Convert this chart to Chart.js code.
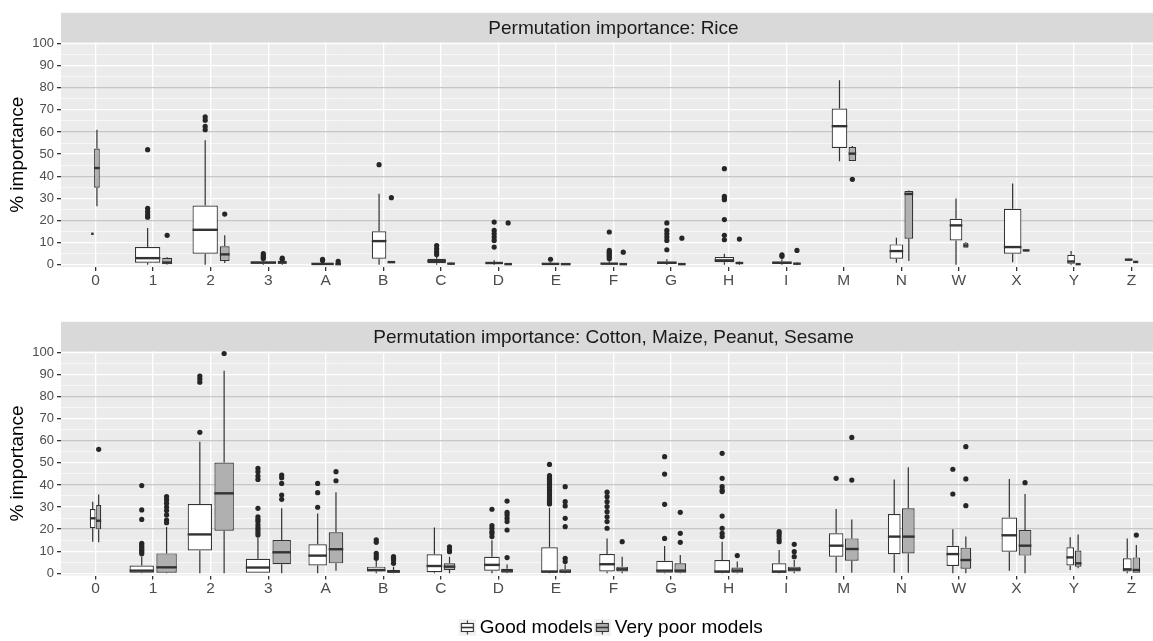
<!DOCTYPE html>
<html>
<head>
<meta charset="utf-8">
<script src="https://cdn.jsdelivr.net/npm/chart.js@4.4.1/dist/chart.umd.min.js"></script>
<style>
  html, body { margin:0; padding:0; background:#fff; width:1153px; height:641px; overflow:hidden; }
  #topChart { position:absolute; left:0; top:0; }
  #botChart { position:absolute; left:0; top:300px; }
</style>
</head>
<body>
<canvas id="topChart" width="1166" height="292"></canvas>
<canvas id="botChart" width="1166" height="347"></canvas>
<script>
// ---------------- DATA ----------------
const categories = ['0','1','2','3','A','B','C','D','E','F','G','H','I','M','N','W','X','Y','Z'];
const yTickValues = [0,10,20,30,40,50,60,70,80,90,100];
const seriesNames = ['Good models', 'Very poor models'];
const panelTitles = ['Permutation importance: Rice', 'Permutation importance: Cotton, Maize, Peanut, Sesame'];

// box statistics per category: [lower whisker, Q1, median, Q3, upper whisker]
const riceGoodStats = [
  [14,14,14,14,14],[0,0.9,3.0,8.0,16.6],[0,5.0,15.8,26.8,56.3],[0,0.5,1.0,1.5,2.2],[0,0.2,0.4,0.6,1.0],
  [0,2.7,10.7,15.1,32.1],[0,0.75,1.7,2.7,4.0],[0,0.4,0.8,1.2,2.0],[0,0.2,0.4,0.8,1.2],[0,0.2,0.5,0.8,1.5],
  [0,0.5,0.9,1.5,2.5],[0,1.2,2.0,3.5,5.0],[0,0.5,0.9,1.5,2.5],[46.8,52.8,62.6,70.6,83.4],[0.9,2.7,6.2,9.2,12.2],
  [0,11.0,17.8,20.8,29.9],[1.2,5.0,8.0,25.3,36.7],[0,0.5,1.5,4.5,6.2],[1.8,2.0,2.3,2.7,2.8]
];
const riceGoodN = [1,100,100,100,78,33,53,48,48,48,59,59,59,38,29,25,48,9,9];
const riceGoodOutliers = [
  [],[52,25.5,24,22.5,21.5],[66.8,65.3,62.5,61],[5,4.2,3.4,2.8],[2.5,1.9],
  [45.2],[8.7,7.2,5.8,4.6],[19.3,15.5,14,12.5,11,8],[2.5],[14.8,6.5,5.7,5,4.2,3.5,2.7],
  [18.9,15.5,14,12.5,11,6.8],[43.4,30.9,29.9,29.4,20.4,13.3,11.3],[4.5,3.8],[],[],
  [],[],[],[]
];

const ricePoorStats = [
  [26.4,34.8,43.7,52.5,61],[0,0.2,1.0,3.2,3.5],[0.8,1.7,4.7,8.4,13.3],[0,0.5,1.0,1.8,2.0],[0,0.1,0.3,0.6,0.8],
  [0.8,1.0,1.2,1.4,1.6],[0,0.3,0.5,0.9,1.2],[0,0.1,0.3,0.5,0.7],[0,0.1,0.3,0.5,0.7],[0,0.1,0.3,0.5,0.7],
  [0,0.1,0.3,0.5,0.7],[0,0.5,0.8,1.1,1.5],[0,0.3,0.5,0.7,1.0],[46.9,46.9,50.2,53.2,53.7],[1.7,11.8,32.0,33.3,33.5],
  [7.7,7.7,8.7,10.0,10.3],[6.0,6.2,6.5,6.8,7.0],[0,0.1,0.3,0.5,0.5],[1.0,1.1,1.3,1.5,1.6]
];
const ricePoorN = [5,15,15,12,5,9,9,9,15,9,9,9,9,9,12,4,7,4,4];
const ricePoorOutliers = [
  [],[13.3],[22.9],[3,2.5],[1.5],
  [30.3],[],[18.9],[],[5.7],
  [12],[11.6],[6.5],[38.6],[],
  [],[],[],[]
];

const otherGoodStats = [
  [14.3,20.4,24.9,29.1,32.4],[0,0.3,1.2,3.5,7.5],[0,10.3,17.6,31.4,59.6],[0,0,2.6,6.6,16],[0,3.5,8.0,13.1,27.1],
  [0,0.8,1.5,3.0,6.0],[0,0.5,3.3,8.6,20.7],[0,1.2,3.8,7.5,15],[0,0.3,0.8,11.8,29.7],[0,0.8,4.1,8.7,15.8],
  [0,0.3,1.2,5.7,12.4],[0,0.3,0.8,6.0,14.3],[0,0.3,0.8,4.5,10.5],[0.3,7.5,12.5,18.1,29.1],[0.3,8.6,16.6,26.8,42.5],
  [0,3.3,8.7,12.5,19.9],[1.2,9.8,17.2,25.2,42.7],[1.5,3.5,7.2,11.8,16.3],[0,0.8,1.8,6.8,15.8]
];
const otherGoodN = [5,92,92,92,53,53,38,38,43,38,43,38,33,33,25,25,38,9,12];
const otherGoodOutliers = [
  [],[39.7,28.7,24.4,13.6,12.8,12,11.2,10.4,9.6,8.8],[89.3,88,86.5,63.8],
  [47.5,46,44,42.5,29.4,25.6,24.4,23.4,21.9,20.6,19.6,18.4,17.3],[40.7,36.5,29.9],
  [15.1,14,9,7.8,6.8],[],[29,21.6,20.4,18.9,18.1,16.6],
  [49.3,44.2,43,42.2,41,40,38.8,37.7,36.5,35.4,34.3,33.2,32.3,31.4],
  [36.7,34.7,32.4,30.2,27.9,25.6,23.4,20.4],[52.8,44.9,31.2,15.8],
  [54.3,43,39.2,37.7,37,25.9,20.4,18.1,16.6],[18.9,18.1,16.9,15.5,14.3],[43],[],
  [47.1,35.9],[],[],[]
];

const otherPoorStats = [
  [14,19.9,23.8,30.9,35.7],[0,0.3,2.7,9.0,21],[0,19.3,36.2,50.1,91.7],[0,4.1,9.5,15.1,29.4],[1.2,4.5,10.9,18.6,36.7],
  [0,0.3,0.8,1.5,3.0],[0,1.5,3.0,4.5,7.5],[0,0.3,1.2,2.0,4.0],[0,0.3,0.8,1.8,4.0],[0,0.8,1.8,3.0,7.5],
  [0,0.3,1.2,4.5,8.3],[0,0.3,1.2,2.6,5.3],[0,0.8,1.8,3.0,6.0],[0.3,5.7,11.0,15.8,24.4],[0.3,9.0,16.6,29.4,48.0],
  [0,2.1,6.0,11.6,16.6],[0,8.0,12.5,19.6,35.9],[2.3,3.0,4.5,10.3,17.6],[0.3,0.3,1.5,7.2,12.8]
];
const otherPoorN = [4,65,59,53,33,25,21,21,21,21,21,21,25,29,25,18,25,7,9];
const otherPoorOutliers = [
  [56.1],[34.7,33.2,31.7,30,28.4,26.4,24.1,22.9],[99.5],[44.5,43.3,40.7,35.4,33.5],[46,41.9],
  [7.5,6.8,6,4.5],[12,10.6,9.8],[32.7,27.6,26.4,24.9,23.4,19.6,7.1],[39.2,32.4,30.5,24.9,21.1,6.8,5.3],[14.3],
  [27.6,18.1,14],[8],[13.1,9.8,7.5],[61.5,42.2],[],
  [57.3,42.7,30.6],[41],[],[17.3]
];

// ---------------- STYLE ----------------
const FONT = "'Liberation Sans', Arial, Helvetica, sans-serif";
Chart.defaults.font.family = FONT;
const fills = ['#FFFFFF', '#B0B0B0'];
const INK = '#333333';
const MAX_BOX = 0.44;   // widest box, in category units
const DODGE_PAD = 0.9;
const N_MAX = Math.max(...riceGoodN, ...ricePoorN, ...otherGoodN, ...otherPoorN);

function makeGlyph(fill) {
  const c = document.createElement('canvas');
  c.width = 17; c.height = 17;
  const g = c.getContext('2d');
  g.fillStyle = '#F2F2F2'; g.fillRect(0, 0, 17, 17);
  g.strokeStyle = INK; g.lineWidth = 1.1;
  g.beginPath(); g.moveTo(8.5, 1.5); g.lineTo(8.5, 4.5); g.moveTo(8.5, 12.5); g.lineTo(8.5, 15.5); g.stroke();
  g.fillStyle = fill; g.fillRect(2.5, 4.5, 12, 8); g.strokeRect(2.5, 4.5, 12, 8);
  g.lineWidth = 1.6; g.beginPath(); g.moveTo(2.5, 8.5); g.lineTo(14.5, 8.5); g.stroke();
  return c;
}
const glyphs = fills.map(makeGlyph);

const boxplotPlugin = {
  id: 'boxplotFacet',
  beforeDraw(chart, args, opts) {
    const { ctx, chartArea: a } = chart;
    ctx.save();
    ctx.fillStyle = '#EBEBEB';
    ctx.fillRect(a.left, a.top, a.right - a.left, a.bottom - a.top);
    ctx.fillStyle = '#D9D9D9';
    ctx.fillRect(a.left, a.top - opts.stripHeight, a.right - a.left, opts.stripHeight);
    ctx.fillStyle = '#1A1A1A';
    ctx.font = '19px ' + FONT;
    ctx.textAlign = 'center';
    ctx.textBaseline = 'middle';
    ctx.fillText(opts.title, (a.left + a.right) / 2, a.top - opts.stripHeight / 2 + 1);
    ctx.restore();
  },
  afterDatasetsUpdate(chart) {
    const xs = chart.scales.x;
    const unit = xs.getPixelForValue(1) - xs.getPixelForValue(0);
    const sets = chart.data.datasets;
    const metas = sets.map((d, k) => chart.getDatasetMeta(k));
    categories.forEach((c, i) => {
      const w = sets.map(d => MAX_BOX * Math.sqrt(d.counts[i] / N_MAX));
      const slot = w.map(v => v / DODGE_PAD);
      let start = i - (slot[0] + slot[1]) / 2;
      metas.forEach((m, k) => {
        const el = m.data[i];
        el.x = xs.getPixelForValue(start + slot[k] / 2);
        el.width = w[k] * unit;
        start += slot[k];
      });
    });
  },
  afterDatasetsDraw(chart) {
    const { ctx } = chart;
    const ys = chart.scales.y;
    ctx.save();
    ctx.lineCap = 'butt';
    chart.data.datasets.forEach((ds, k) => {
      const meta = chart.getDatasetMeta(k);
      meta.data.forEach((el, i) => {
        const [lo, q1, med, q3, hi] = ds.stats[i];
        const x = el.x, half = el.width / 2;
        ctx.strokeStyle = INK;
        ctx.lineWidth = 1.2;
        ctx.beginPath();
        if (hi > q3) { ctx.moveTo(x, ys.getPixelForValue(q3)); ctx.lineTo(x, ys.getPixelForValue(hi)); }
        if (lo < q1) { ctx.moveTo(x, ys.getPixelForValue(q1)); ctx.lineTo(x, ys.getPixelForValue(lo)); }
        ctx.stroke();
        ctx.lineWidth = 2.4;
        ctx.beginPath();
        const ym = ys.getPixelForValue(med);
        ctx.moveTo(x - half, ym); ctx.lineTo(x + half, ym);
        ctx.stroke();
        ctx.fillStyle = '#262626';
        ds.outliers[i].forEach(v => {
          ctx.beginPath();
          ctx.arc(x, ys.getPixelForValue(v), 2.6, 0, Math.PI * 2);
          ctx.fill();
        });
      });
    });
    ctx.restore();
  }
};

function makeDatasets(stats, counts, outliers) {
  return [0, 1].map(k => ({
    label: seriesNames[k],
    data: stats[k].map((s, i) => ({ x: i, y: [s[1], s[3]] })),
    stats: stats[k],
    counts: counts[k],
    outliers: outliers[k],
    backgroundColor: fills[k],
    borderColor: INK,
    borderWidth: 1.2,
    borderSkipped: false,
    grouped: true
  }));
}

function makeOptions(title, topPad, xAxisHeight, withLegend) {
  return {
    responsive: false,
    maintainAspectRatio: false,
    animation: false,
    events: [],
    layout: { padding: { top: topPad, left: 0, right: 0, bottom: 0 } },
    scales: {
      x: {
        type: 'linear',
        min: -0.6, max: 18.6,
        offset: false,
        afterBuildTicks: s => { s.ticks = categories.map((c, i) => ({ value: i })); },
        afterFit: s => { s.height = xAxisHeight; },
        ticks: {
          callback: v => categories[v],
          autoSkip: false, maxRotation: 0, minRotation: 0,
          font: { size: 15.5 }, color: '#4D4D4D', padding: 0
        },
        grid: { offset: false, color: '#FFFFFF', lineWidth: 1.3, tickColor: INK, tickLength: 4 },
        border: { display: false }
      },
      y: {
        type: 'linear',
        min: -1, max: 100.4,
        afterBuildTicks: s => {
          const t = [];
          for (let v = 0; v <= 100; v += 5) t.push({ value: v });
          s.ticks = t;
        },
        afterFit: s => { s.width = 61; },
        ticks: {
          callback: v => (yTickValues.includes(v) ? String(v) : ''),
          font: { size: 13 }, color: '#4D4D4D', padding: 3, autoSkip: false
        },
        grid: {
          color: c => {
            const v = c.tick ? c.tick.value : 0;
            return (v % 20 === 0 && v > 0 && v < 100) ? '#C6C6C6' : '#FFFFFF';
          },
          lineWidth: c => {
            const v = c.tick ? c.tick.value : 0;
            return v % 10 === 0 ? 1.3 : 0.6;
          },
          tickColor: c => {
            const v = c.tick ? c.tick.value : 0;
            return v % 10 === 0 ? INK : 'rgba(0,0,0,0)';
          },
          tickLength: 4
        },
        border: { display: false },
        title: {
          display: true, text: '% importance', color: '#000000',
          font: { size: 19 }, padding: { top: 6, bottom: 0 }
        }
      }
    },
    plugins: {
      tooltip: { enabled: false },
      boxplotFacet: { title: title, stripHeight: 29.7 },
      legend: withLegend ? {
        display: true,
        position: 'bottom',
        fullSize: false,
        align: 'center',
        labels: {
          usePointStyle: true,
          pointStyleWidth: 6,
          padding: 6.5,
          color: '#000000',
          font: { size: 19 },
          generateLabels: () => seriesNames.map((name, k) => ({
            text: name, pointStyle: glyphs[k], fillStyle: fills[k], strokeStyle: INK,
            lineWidth: 0, hidden: false, datasetIndex: k, fontColor: '#000000'
          }))
        }
      } : { display: false }
    }
  };
}

new Chart(document.getElementById('topChart'), {
  type: 'bar',
  data: { datasets: makeDatasets([riceGoodStats, ricePoorStats], [riceGoodN, ricePoorN], [riceGoodOutliers, ricePoorOutliers]) },
  options: makeOptions(panelTitles[0], 42.5, 25, false),
  plugins: [boxplotPlugin]
});

new Chart(document.getElementById('botChart'), {
  type: 'bar',
  data: { datasets: makeDatasets([otherGoodStats, otherPoorStats], [otherGoodN, otherPoorN], [otherGoodOutliers, otherPoorOutliers]) },
  options: makeOptions(panelTitles[1], 51.5, 36, true),
  plugins: [boxplotPlugin]
});
</script>
</body>
</html>
